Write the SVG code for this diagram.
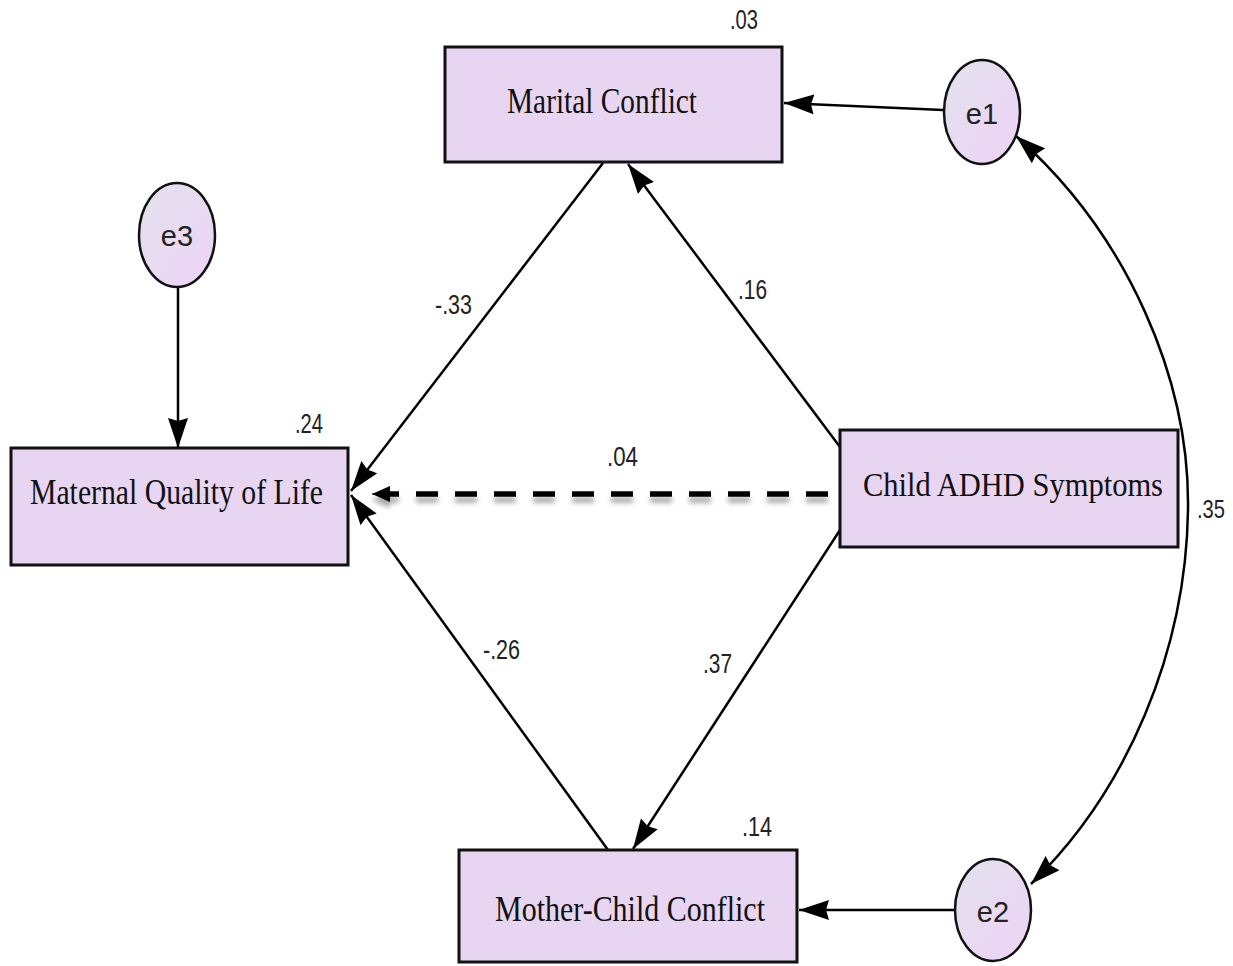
<svg xmlns="http://www.w3.org/2000/svg" width="1233" height="966" viewBox="0 0 1233 966">
<defs>
<linearGradient id="eg" x1="0" y1="0" x2="1" y2="1">
<stop offset="0" stop-color="#e2e2ee"/>
<stop offset="1" stop-color="#efd2f5"/>
</linearGradient>
<marker id="ah" viewBox="0 0 30 20" refX="30" refY="10" markerWidth="30" markerHeight="20" markerUnits="userSpaceOnUse" orient="auto-start-reverse">
<path d="M0,0 L30,10 L0,20 L3,10 Z" fill="#000"/>
</marker>
<marker id="ahs" viewBox="0 0 18 16" refX="18" refY="8" markerWidth="18" markerHeight="16" markerUnits="userSpaceOnUse" orient="auto">
<path d="M0,0 L18,8 L0,16 Z" fill="#000"/>
</marker>
<filter id="sh" filterUnits="userSpaceOnUse" x="340" y="470" width="510" height="60">
<feGaussianBlur in="SourceAlpha" stdDeviation="2.5"/>
<feOffset dx="0" dy="6" result="b"/>
<feComponentTransfer in="b" result="c"><feFuncA type="linear" slope="0.35"/></feComponentTransfer>
<feMerge><feMergeNode in="c"/><feMergeNode in="SourceGraphic"/></feMerge>
</filter>
</defs>
<style>
.box{fill:#e8d5f2;stroke:#111;stroke-width:3}
.ell{fill:url(#eg);stroke:#111;stroke-width:2.5}
.lbl{font-family:"Liberation Serif","Times New Roman",serif;font-size:36px;fill:#111}
.num{font-family:"Liberation Sans",Arial,sans-serif;font-size:28px;fill:#222}
.el{font-family:"Liberation Sans",Arial,sans-serif;font-size:29px;fill:#222;text-anchor:middle}
.ln{fill:none;stroke:#000;stroke-width:2.5;marker-end:url(#ah)}
</style>
<rect width="1233" height="966" fill="#fff"/>
<g id="connectors">
<line class="ln" x1="178" y1="288" x2="178" y2="448"/>
<line class="ln" x1="603" y1="163" x2="351" y2="491"/>
<line class="ln" x1="840" y1="447" x2="628" y2="164"/>
<line class="ln" x1="608" y1="850" x2="351" y2="495"/>
<line class="ln" x1="840" y1="530" x2="633" y2="849"/>
<line class="ln" x1="943" y1="110" x2="784" y2="103"/>
<line class="ln" x1="955" y1="910" x2="799" y2="910"/>
<path class="ln" style="marker-start:url(#ah)" d="M1016,136 C1128,235 1190,380 1188,510 C1186,650 1128,790 1031,884"/>
<g filter="url(#sh)">
<line x1="828" y1="494" x2="388" y2="494" stroke="#000" stroke-width="5.5" stroke-dasharray="22 17"/>
<line x1="392" y1="494" x2="372" y2="494" stroke="#000" stroke-width="1" style="marker-end:url(#ahs)"/>
</g>
</g>
<g id="marital">
<rect class="box" x="445" y="47" width="337" height="115"/>
<text class="lbl" x="507" y="113" textLength="190" lengthAdjust="spacingAndGlyphs">Marital Conflict</text>
<text class="num" x="730" y="29" textLength="28" lengthAdjust="spacingAndGlyphs">.03</text>
</g>
<g id="mqol">
<rect class="box" x="11" y="448" width="337" height="117"/>
<text class="lbl" x="30" y="504" textLength="293" lengthAdjust="spacingAndGlyphs">Maternal Quality of Life</text>
<text class="num" x="295" y="433" textLength="28" lengthAdjust="spacingAndGlyphs">.24</text>
</g>
<g id="adhd">
<rect class="box" x="840" y="430" width="338" height="117"/>
<text class="lbl" x="863" y="496" style="font-size:33px" textLength="300" lengthAdjust="spacingAndGlyphs">Child ADHD Symptoms</text>
</g>
<g id="mcc">
<rect class="box" x="459" y="850" width="338" height="112"/>
<text class="lbl" x="495" y="921" textLength="270" lengthAdjust="spacingAndGlyphs">Mother-Child Conflict</text>
<text class="num" x="742" y="836" textLength="30" lengthAdjust="spacingAndGlyphs">.14</text>
</g>
<g id="e1">
<ellipse class="ell" cx="982" cy="112" rx="38" ry="52"/>
<text class="el" x="982" y="124">e1</text>
</g>
<g id="e2">
<ellipse class="ell" cx="993" cy="910" rx="38" ry="51"/>
<text class="el" x="993" y="922">e2</text>
</g>
<g id="e3">
<ellipse class="ell" cx="177" cy="235" rx="38" ry="52"/>
<text class="el" x="177" y="246">e3</text>
</g>
<g id="labels">
<text class="num" x="435" y="314" textLength="37" lengthAdjust="spacingAndGlyphs">-.33</text>
<text class="num" x="738" y="299" textLength="29" lengthAdjust="spacingAndGlyphs">.16</text>
<text class="num" x="607" y="466" textLength="31" lengthAdjust="spacingAndGlyphs">.04</text>
<text class="num" x="483" y="659" textLength="37" lengthAdjust="spacingAndGlyphs">-.26</text>
<text class="num" x="703" y="673" textLength="29" lengthAdjust="spacingAndGlyphs">.37</text>
<text class="num" x="1197" y="518" style="font-size:25px" textLength="28" lengthAdjust="spacingAndGlyphs">.35</text>
</g>
</svg>
